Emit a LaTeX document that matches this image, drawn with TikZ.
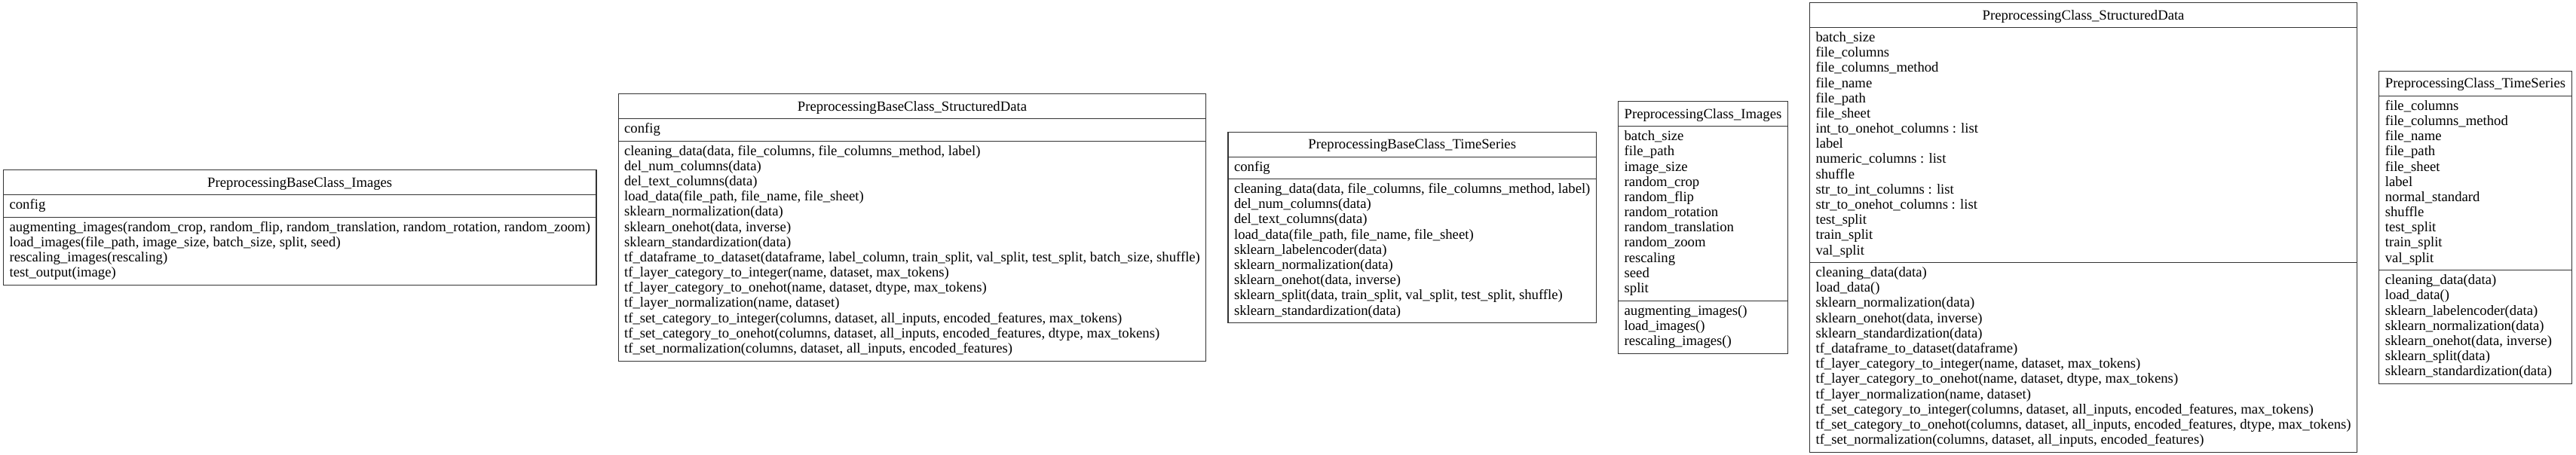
\documentclass[tikz,border=0pt]{standalone}
\usepackage{fontspec}
\setmainfont{Liberation Serif}
\usetikzlibrary{shapes.multipart,positioning}

\newcommand{\classname}[1]{\rule[-3.2pt]{0pt}{12.7pt}#1}
\newcommand{\memberlist}[1]{\begin{tabular}{@{}l@{}}#1\end{tabular}}

\begin{document}
\begin{tikzpicture}[
    x=0.535pt, y=0.535pt,
    node distance=15pt,
    classbox/.style={rectangle split, rectangle split parts=3, rectangle split part align={center,left,left},
        draw=black!80, line width=0.6pt, inner xsep=4.3pt, inner ysep=2.2pt,
        font=\fontsize{10}{10.8}\selectfont}
]
% base classes
\node[classbox] (imgbase) at (0,0) {\classname{PreprocessingBaseClass\_Images}
    \nodepart{two}\memberlist{config}
    \nodepart{three}\memberlist{augmenting\_images(random\_crop, random\_flip, random\_translation, random\_rotation, random\_zoom)\\
    load\_images(file\_path, image\_size, batch\_size, split, seed)\\
    rescaling\_images(rescaling)\\
    test\_output(image)}};
\node[classbox, right=of imgbase] (structbase) {\classname{PreprocessingBaseClass\_StructuredData}
    \nodepart{two}\memberlist{config}
    \nodepart{three}\memberlist{cleaning\_data(data, file\_columns, file\_columns\_method, label)\\
    del\_num\_columns(data)\\
    del\_text\_columns(data)\\
    load\_data(file\_path, file\_name, file\_sheet)\\
    sklearn\_normalization(data)\\
    sklearn\_onehot(data, inverse)\\
    sklearn\_standardization(data)\\
    tf\_dataframe\_to\_dataset(dataframe, label\_column, train\_split, val\_split, test\_split, batch\_size, shuffle)\\
    tf\_layer\_category\_to\_integer(name, dataset, max\_tokens)\\
    tf\_layer\_category\_to\_onehot(name, dataset, dtype, max\_tokens)\\
    tf\_layer\_normalization(name, dataset)\\
    tf\_set\_category\_to\_integer(columns, dataset, all\_inputs, encoded\_features, max\_tokens)\\
    tf\_set\_category\_to\_onehot(columns, dataset, all\_inputs, encoded\_features, dtype, max\_tokens)\\
    tf\_set\_normalization(columns, dataset, all\_inputs, encoded\_features)}};
\node[classbox, right=of structbase] (tsbase) {\classname{PreprocessingBaseClass\_TimeSeries}
    \nodepart{two}\memberlist{config}
    \nodepart{three}\memberlist{cleaning\_data(data, file\_columns, file\_columns\_method, label)\\
    del\_num\_columns(data)\\
    del\_text\_columns(data)\\
    load\_data(file\_path, file\_name, file\_sheet)\\
    sklearn\_labelencoder(data)\\
    sklearn\_normalization(data)\\
    sklearn\_onehot(data, inverse)\\
    sklearn\_split(data, train\_split, val\_split, test\_split, shuffle)\\
    sklearn\_standardization(data)}};

% derived classes
\node[classbox, right=of tsbase] (imgcls) {\classname{PreprocessingClass\_Images}
    \nodepart{two}\memberlist{batch\_size\\ file\_path\\ image\_size\\ random\_crop\\ random\_flip\\ random\_rotation\\
    random\_translation\\ random\_zoom\\ rescaling\\ seed\\ split}
    \nodepart{three}\memberlist{augmenting\_images()\\ load\_images()\\ rescaling\_images()}};
\node[classbox, right=of imgcls] (structcls) {\classname{PreprocessingClass\_StructuredData}
    \nodepart{two}\memberlist{batch\_size\\ file\_columns\\ file\_columns\_method\\ file\_name\\ file\_path\\ file\_sheet\\
    int\_to\_onehot\_columns : list\\ label\\ numeric\_columns : list\\ shuffle\\ str\_to\_int\_columns : list\\
    str\_to\_onehot\_columns : list\\ test\_split\\ train\_split\\ val\_split}
    \nodepart{three}\memberlist{cleaning\_data(data)\\
    load\_data()\\
    sklearn\_normalization(data)\\
    sklearn\_onehot(data, inverse)\\
    sklearn\_standardization(data)\\
    tf\_dataframe\_to\_dataset(dataframe)\\
    tf\_layer\_category\_to\_integer(name, dataset, max\_tokens)\\
    tf\_layer\_category\_to\_onehot(name, dataset, dtype, max\_tokens)\\
    tf\_layer\_normalization(name, dataset)\\
    tf\_set\_category\_to\_integer(columns, dataset, all\_inputs, encoded\_features, max\_tokens)\\
    tf\_set\_category\_to\_onehot(columns, dataset, all\_inputs, encoded\_features, dtype, max\_tokens)\\
    tf\_set\_normalization(columns, dataset, all\_inputs, encoded\_features)}};
\node[classbox, right=of structcls] (tscls) {\classname{PreprocessingClass\_TimeSeries}
    \nodepart{two}\memberlist{file\_columns\\ file\_columns\_method\\ file\_name\\ file\_path\\ file\_sheet\\ label\\
    normal\_standard\\ shuffle\\ test\_split\\ train\_split\\ val\_split}
    \nodepart{three}\memberlist{cleaning\_data(data)\\ load\_data()\\ sklearn\_labelencoder(data)\\
    sklearn\_normalization(data)\\ sklearn\_onehot(data, inverse)\\ sklearn\_split(data)\\
    sklearn\_standardization(data)}};

\useasboundingbox ([shift={(-4,-302)}]imgbase.west) rectangle ++(3417,604);
\end{tikzpicture}
\end{document}
